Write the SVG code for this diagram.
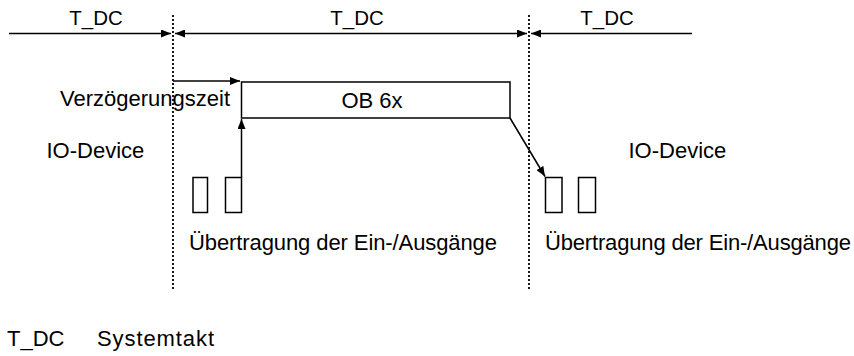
<svg xmlns="http://www.w3.org/2000/svg" width="854" height="356" viewBox="0 0 854 356">
<defs>
<marker id="ah" viewBox="0 0 10 8" refX="10" refY="4" markerWidth="10" markerHeight="8" markerUnits="userSpaceOnUse" orient="auto-start-reverse">
<path d="M0,0 L10,4 L0,8 z" fill="#000"/>
</marker>
<style>
text{font-family:"Liberation Sans",Arial,sans-serif;font-size:22px;fill:#000}
.top{font-size:20.5px}
.ln{stroke:#000;stroke-width:1.5;fill:none}
.dot{stroke:#000;stroke-width:1.8;stroke-dasharray:2 2;fill:none}
.box{stroke:#000;stroke-width:1.5;fill:#fff}
.mid{text-anchor:middle}
</style>
</defs>
<rect width="854" height="356" fill="#fff"/>
<g id="guides">
<line class="dot" x1="173" y1="15" x2="173" y2="290"/>
<line class="dot" x1="529" y1="15" x2="529" y2="290"/>
</g>
<g id="connectors">
<line class="ln" x1="9" y1="33.5" x2="171" y2="33.5" marker-end="url(#ah)"/>
<line class="ln" x1="175" y1="33.5" x2="527" y2="33.5" marker-start="url(#ah)" marker-end="url(#ah)"/>
<line class="ln" x1="531" y1="33.5" x2="692" y2="33.5" marker-start="url(#ah)"/>
<line class="ln" x1="173" y1="81" x2="240" y2="81" marker-end="url(#ah)"/>
<line class="ln" x1="241.5" y1="177.5" x2="241.5" y2="119" marker-end="url(#ah)"/>
<line class="ln" x1="510" y1="118" x2="545" y2="176.5" marker-end="url(#ah)"/>
</g>
<g id="labels-tdc">
<text class="mid top" x="96" y="25">T_DC</text>
<text class="mid top" x="357" y="25">T_DC</text>
<text class="mid top" x="607" y="25">T_DC</text>
</g>
<g id="ob6x">
<rect class="box" x="241.5" y="82" width="268.5" height="36"/>
<text class="mid" x="372" y="108">OB 6x</text>
</g>
<g id="verzoegerung">
<text x="60" y="106" textLength="170">Verzögerungszeit</text>
</g>
<g id="io-left">
<text x="46.5" y="158">IO-Device</text>
<rect class="box" x="193" y="177.5" width="14.5" height="35"/>
<rect class="box" x="225.5" y="177.5" width="16" height="35"/>
<text x="189" y="250" textLength="308">Übertragung der Ein-/Ausgänge</text>
</g>
<g id="io-right">
<text x="628.5" y="158">IO-Device</text>
<rect class="box" x="545.5" y="177.5" width="16.5" height="35"/>
<rect class="box" x="578.5" y="177.5" width="17" height="35"/>
<text x="545" y="250" textLength="306">Übertragung der Ein-/Ausgänge</text>
</g>
<g id="legend">
<text x="7" y="345.5">T_DC</text>
<text x="97" y="345.5" textLength="117">Systemtakt</text>
</g>
</svg>
